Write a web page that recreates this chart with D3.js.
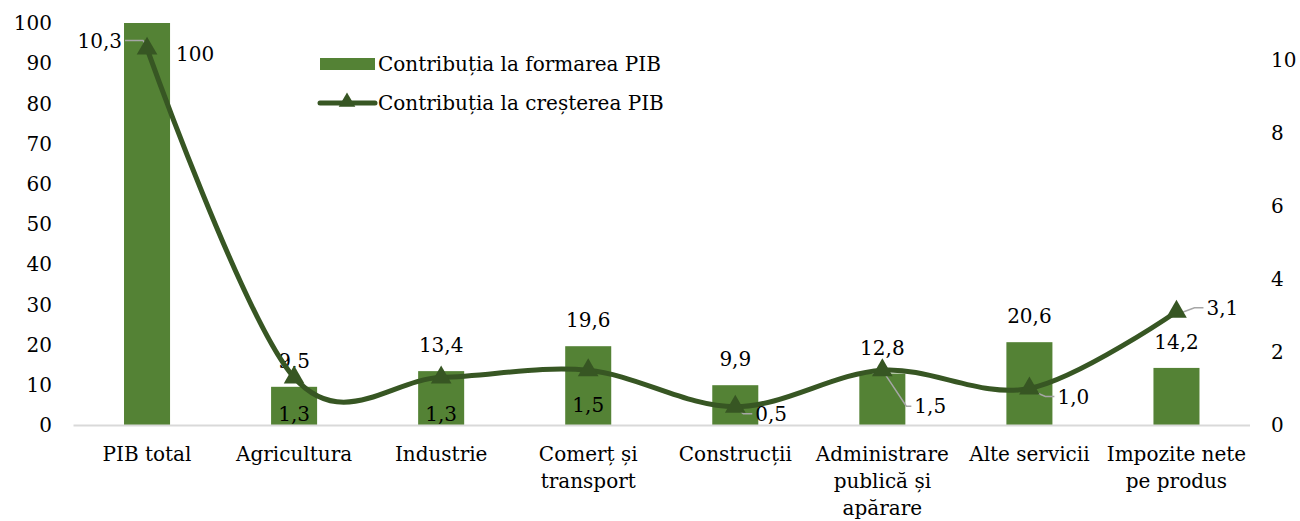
<!DOCTYPE html>
<html><head><meta charset="utf-8">
<script src="https://cdn.jsdelivr.net/npm/d3@7"></script>
<style>
html,body{margin:0;padding:0;background:#fff;}
svg text{font-family:"DejaVu Serif",serif;fill:#000;}
</style></head>
<body><svg id="c" width="1300" height="521"></svg>
<script>
const categories = ["PIB total","Agricultura","Industrie","Comerț și transport","Construcții","Administrare publică și apărare","Alte servicii","Impozite nete pe produs"];
const categoryLines = [["PIB total"],["Agricultura"],["Industrie"],["Comerț și","transport"],["Construcții"],["Administrare","publică și","apărare"],["Alte servicii"],["Impozite nete","pe produs"]];
const formareValues = [100, 9.5, 13.4, 19.6, 9.9, 12.8, 20.6, 14.2];
const crestereValues = [10.3, 1.3, 1.3, 1.5, 0.5, 1.5, 1.0, 3.1];
const leftTicks = [0,10,20,30,40,50,60,70,80,90,100];
const rightTicks = [0,2,4,6,8,10];
const seriesNames = ["Contribuția la formarea PIB","Contribuția la creșterea PIB"];
// label placement (layout only)
const barLabelPos = [{dx:48,dy:31,anchor:"middle"},null,null,null,null,null,null,null];
const lineLabelPos = [
  {dx:-25,dy:-8,anchor:"end",leader:true},
  {dx:0,dy:36,anchor:"middle",leader:false},
  {dx:0,dy:36,anchor:"middle",leader:false},
  {dx:0,dy:35,anchor:"middle",leader:false},
  {dx:20,dy:7,anchor:"start",leader:true},
  {dx:32,dy:36,anchor:"start",leader:true},
  {dx:28,dy:8,anchor:"start",leader:true},
  {dx:30,dy:-4,anchor:"start",leader:true}
];
const fmt = v => v === 100 ? "100" : d3.format(".1f")(v).replace(".", ",");

const svg = d3.select("#c");
const x = d3.scaleBand().domain(categories).range([73.5,1250]).paddingInner(0.687).paddingOuter(0.3435);
const yL = d3.scaleLinear().domain([0,100]).range([425,23]);
const yR = d3.scaleLinear().domain([0,11]).range([425,23]);
const cx = c => x(c) + x.bandwidth()/2;
const barColor = "#548235", lineColor = "#375623", fs = 20;

// left axis labels
svg.append("g").selectAll("text").data(leftTicks).join("text")
  .attr("x",52).attr("y",d=>yL(d)).attr("dy","0.36em").attr("text-anchor","end")
  .attr("font-size",fs).text(d=>d);
// right axis labels
svg.append("g").selectAll("text").data(rightTicks).join("text")
  .attr("x",1271).attr("y",d=>yR(d)).attr("dy","0.36em").attr("text-anchor","start")
  .attr("font-size",fs).text(d=>d);

// bars
svg.append("g").selectAll("rect").data(categories).join("rect")
  .attr("x",d=>x(d)).attr("width",x.bandwidth())
  .attr("y",(d,i)=>yL(formareValues[i])).attr("height",(d,i)=>yL(0)-yL(formareValues[i]))
  .attr("fill",barColor);

// axis line
svg.append("line").attr("x1",73.5).attr("x2",1250).attr("y1",yL(0)+0.5).attr("y2",yL(0)+0.5)
  .attr("stroke","#d9d9d9").attr("stroke-width",2);

// category labels
const cl = svg.append("g").selectAll("text").data(categories).join("text")
  .attr("x",d=>cx(d)).attr("y",454).attr("text-anchor","middle").attr("font-size",fs);
cl.each(function(d,i){
  const t = d3.select(this);
  categoryLines[i].forEach((ln,j)=>{
    t.append("tspan").attr("x",cx(d)).attr("dy", j===0 ? "0.36em" : 27).text(ln);
  });
});

// bar labels
svg.append("g").selectAll("text").data(categories).join("text")
  .attr("x",(d,i)=> barLabelPos[i] ? cx(d)+barLabelPos[i].dx : cx(d))
  .attr("y",(d,i)=> barLabelPos[i] ? yL(formareValues[i])+barLabelPos[i].dy : yL(formareValues[i])-26)
  .attr("dy","0.36em").attr("text-anchor","middle").attr("font-size",fs)
  .text((d,i)=>fmt(formareValues[i]));

// line
const pts = categories.map((c,i)=>[cx(c), yR(crestereValues[i])]);
svg.append("path").attr("d", d3.line().curve(d3.curveCardinal.tension(0))(pts))
  .attr("fill","none").attr("stroke",lineColor).attr("stroke-width",5).attr("stroke-linecap","round");

// leader lines
const lg = svg.append("g");
pts.forEach((p,i)=>{
  const o = lineLabelPos[i];
  if(!o.leader) return;
  let path;
  if(o.anchor==="end"){
    path = [[p[0]+o.dx+3,p[1]+o.dy],[p[0]-4,p[1]+o.dy],[p[0],p[1]-2]];
  } else if (i===5) {
    path = [[p[0]+2,p[1]+3],[p[0]+o.dx-8,p[1]+o.dy],[p[0]+o.dx-3,p[1]+o.dy]];
  } else {
    path = [[p[0]+2,p[1]+2],[p[0]+o.dx-12,p[1]+o.dy],[p[0]+o.dx-3,p[1]+o.dy]];
  }
  lg.append("path").attr("d",d3.line()(path)).attr("fill","none").attr("stroke","#a6a6a6").attr("stroke-width",1.5);
});

// markers
svg.append("g").selectAll("path").data(pts).join("path")
  .attr("transform",d=>`translate(${d[0]},${d[1]})`)
  .attr("d",d3.symbol(d3.symbolTriangle,185)()).attr("fill",lineColor);

// line labels
svg.append("g").selectAll("text").data(pts).join("text")
  .attr("x",(d,i)=>d[0]+lineLabelPos[i].dx).attr("y",(d,i)=>d[1]+lineLabelPos[i].dy)
  .attr("dy","0.36em").attr("text-anchor",(d,i)=>lineLabelPos[i].anchor).attr("font-size",fs)
  .text((d,i)=>fmt(crestereValues[i]));

// legend
const leg = svg.append("g");
leg.append("rect").attr("x",320).attr("y",58).attr("width",55).attr("height",12).attr("fill",barColor);
leg.append("text").attr("x",378).attr("y",64).attr("dy","0.36em").attr("font-size",fs).text(seriesNames[0]);
leg.append("line").attr("x1",320).attr("x2",375).attr("y1",103).attr("y2",103).attr("stroke",lineColor).attr("stroke-width",5).attr("stroke-linecap","round");
leg.append("path").attr("transform","translate(347,102)").attr("d",d3.symbol(d3.symbolTriangle,120)()).attr("fill",lineColor);
leg.append("text").attr("x",378).attr("y",103).attr("dy","0.36em").attr("font-size",fs).text(seriesNames[1]);
</script></body></html>
